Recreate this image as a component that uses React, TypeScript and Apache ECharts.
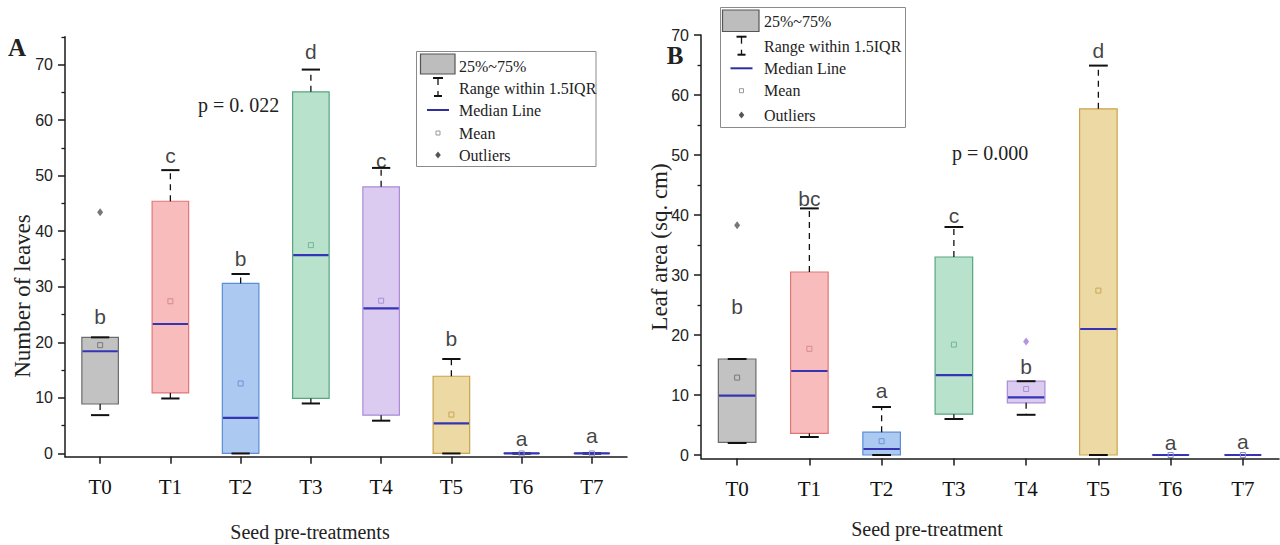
import React, { useEffect, useRef } from 'react';
import * as echarts from 'echarts';

const categories = ['T0', 'T1', 'T2', 'T3', 'T4', 'T5', 'T6', 'T7'];

// Panel A: Number of leaves
const leavesLowerWhisker = [6.9, 9.9, 0, 9.0, 5.9, 0, 0, 0];
const leavesQ1 = [8.9, 10.9, 0, 9.9, 6.9, 0, 0, 0];
const leavesMedian = [18.4, 23.3, 6.4, 35.7, 26.1, 5.4, 0, 0];
const leavesQ3 = [20.9, 45.4, 30.6, 65.1, 48.0, 13.9, 0, 0];
const leavesUpperWhisker = [20.9, 51.0, 32.3, 69.1, 51.4, 17.0, 0, 0];
const leavesMean = [19.5, 27.4, 12.6, 37.5, 27.5, 7.0, 0, 0];
const leavesOutlierCat = [0];
const leavesOutlierValue = [43.4];
const leavesLetters = ['b', 'c', 'b', 'd', 'c', 'b', 'a', 'a'];
const leavesLetterY = [24.6, 53.7, 35.1, 72.4, 52.8, 20.7, 2.7, 3.3];
const leavesTicks = [0, 10, 20, 30, 40, 50, 60, 70];
const leavesMinorTicks = [5, 15, 25, 35, 45, 55, 65, 75];

// Panel B: Leaf area
const areaLowerWhisker = [2.0, 3.0, 0, 6.0, 6.7, 0, 0, 0];
const areaQ1 = [2.1, 3.6, 0, 6.8, 8.7, 0, 0, 0];
const areaMedian = [9.9, 14.0, 1.0, 13.3, 9.6, 21.0, 0, 0];
const areaQ3 = [16.0, 30.5, 3.8, 33.0, 12.3, 57.7, 0, 0];
const areaUpperWhisker = [16.0, 41.1, 8.0, 38.0, 12.3, 64.9, 0, 0];
const areaMean = [12.9, 17.7, 2.3, 18.4, 11.0, 27.4, 0, 0];
const areaOutlierCat = [0, 4];
const areaOutlierValue = [38.3, 18.9];
const areaLetters = ['b', 'bc', 'a', 'c', 'b', 'd', 'a', 'a'];
const areaLetterY = [24.8, 42.8, 10.7, 40.0, 14.8, 67.5, 2.1, 2.2];
const areaTicks = [0, 10, 20, 30, 40, 50, 60, 70];
const areaMinorTicks = [5, 15, 25, 35, 45, 55, 65];

const boxFills = ['#c2c2c2', '#f9bcbc', '#abc9f1', '#b9e2cc', '#dccbf1', '#edd9a3', '#c8c8e8', '#c8c8e8'];
const boxStrokes = ['#6b6b6b', '#e07777', '#5b8ed6', '#58a581', '#a98bd8', '#caa44c', '#5b5bc0', '#5b5bc0'];
const meanColors = ['#7a7a7a', '#d58a8a', '#6d95d6', '#74b596', '#aa8ed6', '#c9a659', '#8a8ad0', '#8a8ad0'];
const leavesOutlierColors = ['#555555'];
const areaOutlierColors = ['#555555', '#a27ad6'];

const MEDIAN_COLOR = '#3434b4';
const AXIS_COLOR = '#1a1a1a';
const SERIF = '"Liberation Serif", "Times New Roman", serif';
const SANS = '"Liberation Sans", Arial, sans-serif';

function makeRender() {
  return (params: any, api: any) => {
    const i = params.dataIndex;
    const idx = api.value(0);
    const wl = api.value(1);
    const q1 = api.value(2);
    const md = api.value(3);
    const q3 = api.value(4);
    const wh = api.value(5);
    const mn = api.value(6);
    const band = api.size([1, 0])[0];
    const bw = band * 0.52;
    const cw = bw * 0.5;
    const cx = api.coord([idx, 0])[0];
    const y = (v: number) => api.coord([idx, v])[1];
    const yq1 = y(q1), yq3 = y(q3), ymd = y(md), ywl = y(wl), ywh = y(wh), ymn = y(mn);
    const children: any[] = [];
    children.push({
      type: 'rect',
      shape: { x: cx - bw / 2, y: yq3, width: bw, height: yq1 - yq3 },
      style: { fill: boxFills[i], stroke: boxStrokes[i], lineWidth: 1.2 },
    });
    if (wh > q3) {
      children.push({
        type: 'line',
        shape: { x1: cx, y1: yq3, x2: cx, y2: ywh },
        style: { stroke: '#111', lineWidth: 1.3, lineDash: [6, 5] },
      });
    }
    if (wl < q1) {
      children.push({
        type: 'line',
        shape: { x1: cx, y1: yq1, x2: cx, y2: ywl },
        style: { stroke: '#111', lineWidth: 1.3, lineDash: [6, 5] },
      });
    }
    children.push({
      type: 'line',
      shape: { x1: cx - cw / 2, y1: ywh, x2: cx + cw / 2, y2: ywh },
      style: { stroke: '#111', lineWidth: 2 },
    });
    children.push({
      type: 'line',
      shape: { x1: cx - cw / 2, y1: ywl, x2: cx + cw / 2, y2: ywl },
      style: { stroke: '#111', lineWidth: 2 },
    });
    children.push({
      type: 'line',
      shape: { x1: cx - bw / 2 + 0.6, y1: ymd, x2: cx + bw / 2 - 0.6, y2: ymd },
      style: { stroke: MEDIAN_COLOR, lineWidth: 2.2 },
    });
    children.push({
      type: 'rect',
      shape: { x: cx - 2.5, y: ymn - 2.5, width: 5, height: 5 },
      style: { fill: 'none', stroke: meanColors[i], lineWidth: 1 },
    });
    return { type: 'group', children };
  };
}

function boxData(lw: number[], q1: number[], md: number[], q3: number[], uw: number[], mean: number[]) {
  return categories.map((_, i) => [i, lw[i], q1[i], md[i], q3[i], uw[i], mean[i]]);
}

function xAxisOf(gridIndex: number) {
  return {
    type: 'category',
    gridIndex,
    data: categories,
    boundaryGap: true,
    axisLine: { show: true, onZero: false, lineStyle: { color: AXIS_COLOR, width: 1.5 } },
    axisTick: { show: true, alignWithLabel: true, length: 7, lineStyle: { color: AXIS_COLOR, width: 1.5 } },
    axisLabel: { margin: 20, fontSize: 21, fontFamily: SERIF, color: '#111' },
    splitLine: { show: false },
  };
}

function yAxisOf(gridIndex: number, max: number, ticks: number[]) {
  return {
    type: 'value',
    gridIndex,
    position: 'left',
    offset: 0,
    min: -0.6,
    max,
    axisLine: { show: true, onZero: false, lineStyle: { color: AXIS_COLOR, width: 1.5 } },
    axisTick: { show: true, length: 7, customValues: ticks, lineStyle: { color: AXIS_COLOR, width: 1.5 } },
    axisLabel: { show: true, customValues: ticks, margin: 12, fontSize: 16, fontFamily: SANS, color: '#222' },
    splitLine: { show: false },
  };
}

function minorAxisOf(gridIndex: number, max: number, ticks: number[]) {
  return {
    type: 'value',
    gridIndex,
    position: 'left',
    offset: 0,
    min: -0.6,
    max,
    axisLine: { show: false, onZero: false },
    axisTick: { show: true, length: 3.5, customValues: ticks, lineStyle: { color: AXIS_COLOR, width: 1.3 } },
    axisLabel: { show: false },
    splitLine: { show: false },
  };
}

function txt(text: string, x: number, y: number, font: string, align = 'left', extra: any = {}) {
  return {
    type: 'text',
    x,
    y,
    z: 100,
    ...extra,
    style: {
      text,
      x: 0,
      y: 0,
      font,
      fill: '#222',
      align,
      verticalAlign: 'middle',
      textAlign: align,
      textVerticalAlign: 'middle',
    },
  };
}

function legendElements(fx: number, fy: number, fw: number, fh: number, sw: number[], rows: number[], textX: number, iconX: number) {
  const els: any[] = [];
  const lf = '16px ' + SERIF;
  els.push({ type: 'rect', z: 99, shape: { x: fx, y: fy, width: fw, height: fh }, style: { fill: '#fff', stroke: '#8a8a8a', lineWidth: 1 } });
  els.push({ type: 'rect', z: 100, shape: { x: sw[0], y: sw[1], width: sw[2], height: sw[3] }, style: { fill: '#bdbdbd', stroke: '#555', lineWidth: 1.2 } });
  const r = rows[1];
  els.push({ type: 'line', z: 100, shape: { x1: iconX - 5, y1: r - 10, x2: iconX + 5, y2: r - 10 }, style: { stroke: '#111', lineWidth: 2 } });
  els.push({ type: 'line', z: 100, shape: { x1: iconX, y1: r - 10, x2: iconX, y2: r - 3 }, style: { stroke: '#111', lineWidth: 1.3 } });
  els.push({ type: 'line', z: 100, shape: { x1: iconX, y1: r + 3, x2: iconX, y2: r + 8 }, style: { stroke: '#111', lineWidth: 1.3 } });
  els.push({ type: 'line', z: 100, shape: { x1: iconX - 4, y1: r + 8, x2: iconX + 4, y2: r + 8 }, style: { stroke: '#111', lineWidth: 2 } });
  els.push({ type: 'line', z: 100, shape: { x1: iconX - 11, y1: rows[2], x2: iconX + 11, y2: rows[2] }, style: { stroke: '#2e2e9e', lineWidth: 2 } });
  els.push({ type: 'rect', z: 100, shape: { x: iconX - 2, y: rows[3] - 2, width: 4, height: 4 }, style: { fill: 'none', stroke: '#999', lineWidth: 1 } });
  els.push({
    type: 'polygon', z: 100,
    shape: { points: [[iconX, rows[4] - 3.5], [iconX + 2.8, rows[4]], [iconX, rows[4] + 3.5], [iconX - 2.8, rows[4]]] },
    style: { fill: '#555' },
  });
  const labels = ['25%~75%', 'Range within 1.5IQR', 'Median Line', 'Mean', 'Outliers'];
  labels.forEach((l, k) => els.push(txt(l, textX, rows[k], lf)));
  return els;
}

export default function App() {
  const ref = useRef<HTMLDivElement>(null);
  useEffect(() => {
    if (!ref.current) return;
    const chart = echarts.init(ref.current, undefined, { renderer: 'svg' });
    const option: any = {
      animation: false,
      backgroundColor: '#ffffff',
      grid: [
        { left: 65, right: 653, top: 36.8, bottom: 88.2, outerBoundsMode: 'none', containLabel: false },
        { left: 701, right: 1, top: 35, bottom: 86.4, outerBoundsMode: 'none', containLabel: false },
      ],
      xAxis: [xAxisOf(0), xAxisOf(1)],
      yAxis: [
        yAxisOf(0, 75, leavesTicks),
        minorAxisOf(0, 75, leavesMinorTicks),
        yAxisOf(1, 70, areaTicks),
        minorAxisOf(1, 70, areaMinorTicks),
      ],
      series: [
        {
          type: 'custom', xAxisIndex: 0, yAxisIndex: 0, clip: false, silent: true,
          renderItem: makeRender(),
          data: boxData(leavesLowerWhisker, leavesQ1, leavesMedian, leavesQ3, leavesUpperWhisker, leavesMean),
        },
        {
          type: 'custom', xAxisIndex: 1, yAxisIndex: 2, clip: false, silent: true,
          renderItem: makeRender(),
          data: boxData(areaLowerWhisker, areaQ1, areaMedian, areaQ3, areaUpperWhisker, areaMean),
        },
        {
          type: 'scatter', xAxisIndex: 0, yAxisIndex: 0, symbol: 'diamond', symbolSize: [6, 8], silent: true,
          data: leavesOutlierCat.map((c, k) => ({ value: [c, leavesOutlierValue[k]], itemStyle: { color: leavesOutlierColors[k] } })),
        },
        {
          type: 'scatter', xAxisIndex: 1, yAxisIndex: 2, symbol: 'diamond', symbolSize: [6, 8], silent: true,
          data: areaOutlierCat.map((c, k) => ({ value: [c, areaOutlierValue[k]], itemStyle: { color: areaOutlierColors[k] } })),
        },
        {
          type: 'scatter', xAxisIndex: 0, yAxisIndex: 0, symbolSize: 1, silent: true,
          itemStyle: { color: 'transparent' },
          data: leavesLetterY.map((v, i) => [i, v]),
          label: { show: true, position: 'inside', formatter: (p: any) => leavesLetters[p.dataIndex], fontSize: 21, fontFamily: SANS, color: '#111' },
        },
        {
          type: 'scatter', xAxisIndex: 1, yAxisIndex: 2, symbolSize: 1, silent: true,
          itemStyle: { color: 'transparent' },
          data: areaLetterY.map((v, i) => [i, v]),
          label: { show: true, position: 'inside', formatter: (p: any) => areaLetters[p.dataIndex], fontSize: 21, fontFamily: SANS, color: '#111' },
        },
      ],
      graphic: {
        elements: [
          txt('A', 17, 47, 'bold 25px ' + SERIF, 'center'),
          txt('B', 675, 55, 'bold 25px ' + SERIF, 'center'),
          txt('p = 0. 022', 198, 105, '20px ' + SERIF, 'left'),
          txt('p = 0.000', 952, 153, '20px ' + SERIF, 'left'),
          txt('Number of leaves', 22, 296, '23px ' + SERIF, 'center', { rotation: Math.PI / 2 }),
          txt('Leaf area (sq. cm)', 659, 247, '23px ' + SERIF, 'center', { rotation: Math.PI / 2 }),
          txt('Seed pre-treatments', 310, 532, '20px ' + SERIF, 'center'),
          txt('Seed pre-treatment', 927, 529, '20px ' + SERIF, 'center'),
          ...legendElements(416.5, 51.5, 179.5, 115, [420.5, 54, 34.5, 20], [66, 88, 110, 133, 155], 459, 438),
          ...legendElements(720.5, 7.5, 185, 120, [722.5, 10, 36.5, 21.5], [21.7, 46.7, 68.3, 90.7, 115], 764, 741.5),
        ],
      },
    };
    chart.setOption(option);
    return () => chart.dispose();
  }, []);
  return <div ref={ref} style={{ position: 'absolute', left: 0, top: 0, width: 1280, height: 545 }} />;
}
